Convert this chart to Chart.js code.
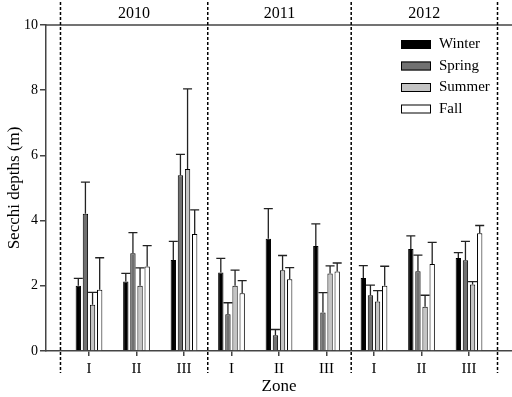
<!DOCTYPE html>
<html>
<head>
<meta charset="utf-8">
<script src="https://cdn.jsdelivr.net/npm/chart.js@4.4.0/dist/chart.umd.min.js"></script>
<style>html,body{margin:0;background:#fff}</style>
</head>
<body>
<canvas id="grafico" width="512" height="397"></canvas>
<script>
// Zonas y años (2010 I-III, 2011 I-III, 2012 I-III)
const zonas = ["I", "II", "III", "I", "II", "III", "I", "II", "III"];
const anios = ["2010", "2011", "2012"];
const divisiones = [-0.6, 2.5, 5.52, 8.6];

// Medias por estación
const winter = [2.0, 2.13, 2.79, 2.41, 3.44, 3.22, 2.24, 3.13, 2.85];
const spring = [4.21, 3.0, 5.39, 1.13, 0.48, 1.18, 1.71, 2.45, 2.78];
const summer = [1.42, 2.0, 5.58, 2.0, 2.48, 2.38, 1.52, 1.36, 2.04];
const fall = [1.88, 2.59, 3.59, 1.77, 2.2, 2.44, 2.0, 2.67, 3.61];

// Barras de error (solo hacia arriba)
const winterErr = [0.23, 0.25, 0.57, 0.43, 0.93, 0.68, 0.38, 0.40, 0.17];
const springErr = [0.97, 0.63, 0.64, 0.35, 0.18, 0.61, 0.31, 0.49, 0.58];
const summerErr = [0.38, 0.55, 2.46, 0.48, 0.45, 0.23, 0.33, 0.35, 0.09];
const fallErr = [0.98, 0.64, 0.74, 0.39, 0.36, 0.26, 0.60, 0.66, 0.24];

const yTicks = [0, 2, 4, 6, 8, 10];

const fuente = "Liberation Serif";

const serie = (label, valores, err, color) => ({
  label,
  data: valores.map((v, i) => ({ x: i, y: v })),
  err,
  backgroundColor: color,
  borderColor: "#000",
  borderWidth: 1,
  categoryPercentage: 0.6,
  barPercentage: 0.75,
});

const extras = {
  id: "extras",
  afterDatasetsDraw(chart) {
    const ctx = chart.ctx;
    const y = chart.scales.y;
    ctx.save();
    ctx.strokeStyle = "#222";
    ctx.lineWidth = 1.3;
    chart.data.datasets.forEach((ds, i) => {
      chart.getDatasetMeta(i).data.forEach((bar, j) => {
        const top = y.getPixelForValue(ds.data[j].y + ds.err[j]);
        ctx.beginPath();
        ctx.moveTo(bar.x, bar.y);
        ctx.lineTo(bar.x, top);
        ctx.moveTo(bar.x - 4.5, top);
        ctx.lineTo(bar.x + 4.5, top);
        ctx.stroke();
      });
    });
    ctx.restore();
  },
  afterDraw(chart) {
    const ctx = chart.ctx;
    const x = chart.scales.x;
    const area = chart.chartArea;
    ctx.save();

    // línea superior
    ctx.strokeStyle = "#444";
    ctx.lineWidth = 1.5;
    ctx.beginPath();
    ctx.moveTo(area.left, area.top);
    ctx.lineTo(area.right, area.top);
    ctx.stroke();

    // divisiones punteadas
    ctx.strokeStyle = "#000";
    ctx.setLineDash([3, 2]);
    const px = divisiones.map(d => x.getPixelForValue(d));
    px.forEach(p => {
      ctx.beginPath();
      ctx.moveTo(p, 2);
      ctx.lineTo(p, 373);
      ctx.stroke();
    });
    ctx.setLineDash([]);

    // años
    ctx.fillStyle = "#000";
    ctx.font = `16px "${fuente}"`;
    ctx.textAlign = "center";
    ctx.textBaseline = "middle";
    anios.forEach((a, i) => ctx.fillText(a, (px[i] + px[i + 1]) / 2, 14));

    // leyenda
    ctx.font = `15px "${fuente}"`;
    ctx.textAlign = "left";
    chart.data.datasets.forEach((ds, i) => {
      const yy = area.top + 15 + i * 21.5;
      ctx.fillStyle = ds.backgroundColor;
      ctx.fillRect(area.right - 111, yy, 30, 9);
      ctx.strokeStyle = "#000";
      ctx.lineWidth = 1;
      ctx.strokeRect(area.right - 110.5, yy + 0.5, 29, 8);
      ctx.fillStyle = "#000";
      ctx.fillText(ds.label, area.right - 73, yy + 4.5);
    });
    ctx.restore();
  },
};

new Chart(document.getElementById("grafico"), {
  type: "bar",
  data: {
    datasets: [
      serie("Winter", winter, winterErr, "#000000"),
      serie("Spring", spring, springErr, "#707070"),
      serie("Summer", summer, summerErr, "#c4c4c4"),
      serie("Fall", fall, fallErr, "#ffffff"),
    ],
  },
  options: {
    responsive: false,
    animation: false,
    devicePixelRatio: 1,
    layout: { padding: { top: 25, right: 0, left: 0, bottom: 0 } },
    plugins: {
      legend: { display: false },
      tooltip: { enabled: false },
    },
    scales: {
      x: {
        type: "linear",
        min: -0.905,
        max: 8.905,
        offset: false,
        afterBuildTicks: axis => { axis.ticks = zonas.map((z, i) => ({ value: i })); },
        afterFit: axis => { axis.height = 46; },
        ticks: {
          callback: v => zonas[v],
          color: "#000",
          font: { family: fuente, size: 15 },
          padding: 4,
          maxRotation: 0,
          autoSkip: false,
        },
        grid: { offset: false, drawOnChartArea: false, tickLength: 5, color: "#444", lineWidth: 1.5 },
        border: { color: "#444", width: 1.5 },
        title: {
          display: true,
          text: "Zone",
          color: "#000",
          font: { family: fuente, size: 17 },
          padding: { top: 0, bottom: 0 },
        },
      },
      y: {
        min: 0,
        max: 10,
        afterBuildTicks: axis => { axis.ticks = yTicks.map(v => ({ value: v })); },
        afterFit: axis => { axis.width = 46; },
        ticks: {
          color: "#000",
          font: { family: fuente, size: 14 },
          padding: 2,
        },
        grid: { drawOnChartArea: false, tickLength: 6, color: "#444", lineWidth: 1.5 },
        border: { color: "#444", width: 1.5 },
        title: {
          display: true,
          text: "Secchi depths (m)",
          color: "#000",
          font: { family: fuente, size: 17 },
          padding: { top: 4, bottom: 0 },
        },
      },
    },
  },
  plugins: [extras],
});
</script>
</body>
</html>
